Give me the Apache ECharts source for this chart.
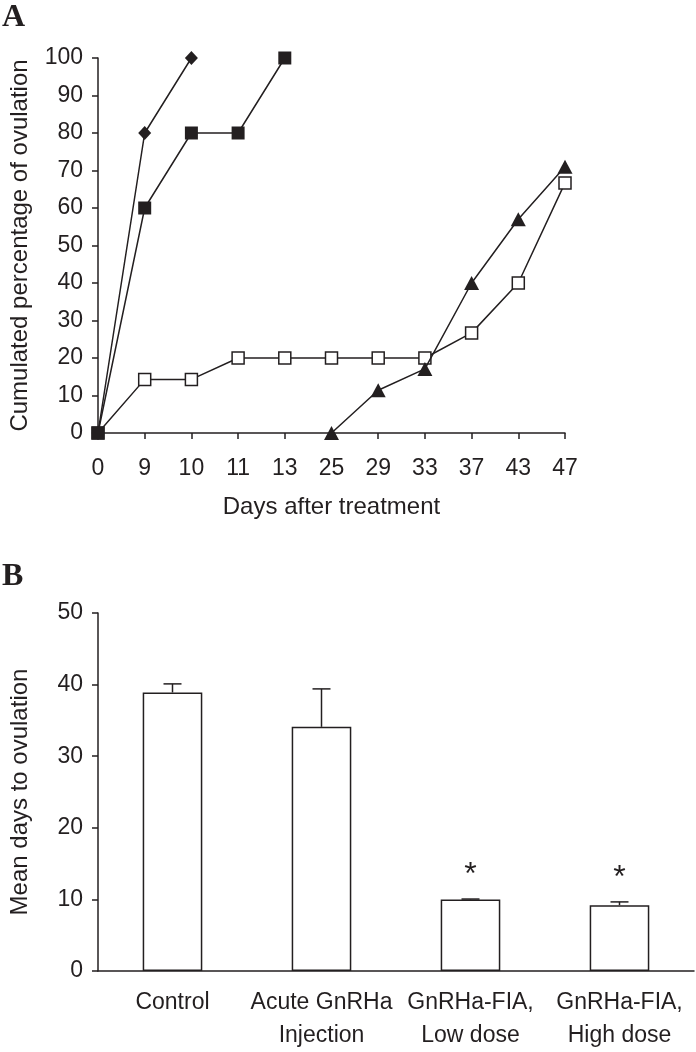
<!DOCTYPE html>
<html>
<head>
<meta charset="utf-8">
<script src="https://cdn.jsdelivr.net/npm/echarts@6/dist/echarts.min.js"></script>
<style>
html,body{margin:0;padding:0;background:#fff;}
#c{width:696px;height:1052px;}
</style>
</head>
<body>
<div id="c"></div>
<script>
// ---- Panel A data ----
var days = ['0','9','10','11','13','25','29','33','37','43','47'];
var diamondVals = [0, 80, 100, '-', '-', '-', '-', '-', '-', '-', '-'];
var filledSquareVals = [0, 60, 80, 80, 100, '-', '-', '-', '-', '-', '-'];
var openSquareVals = [0, 14.3, 14.3, 20, 20, 20, 20, 20, 26.7, 40, 66.7];
var triangleVals = ['-', '-', '-', '-', '-', 0, 11.4, 17.1, 40, 57, 71];

// ---- Panel B data ----
var groups = ['Control', 'Acute GnRHa\nInjection', 'GnRHa-FIA,\nLow dose', 'GnRHa-FIA,\nHigh dose'];
var meanDays = [38.9, 34.1, 10.0, 9.2];
var semDays = [1.2, 5.3, 0.05, 0.45];
var significant = [false, false, true, true];

var INK = '#231f20';
var FONT = "'Liberation Sans', Arial, Helvetica, sans-serif";

var chart = echarts.init(document.getElementById('c'), null, {renderer: 'canvas'});

function lineSeries(name, vals, symbol, size, fill, z) {
  return {
    name: name, type: 'line', xAxisIndex: 0, yAxisIndex: 0,
    data: vals, symbol: symbol, symbolSize: size, connectNulls: false,
    showAllSymbol: true, z: z,
    lineStyle: {color: INK, width: 1.5},
    itemStyle: {color: fill, borderColor: INK, borderWidth: fill === '#fff' ? 1.5 : 0, opacity: 1},
    emphasis: {disabled: true}
  };
}

var errData = meanDays.map(function (m, i) { return [i, m, semDays[i], significant[i] ? 1 : 0]; });

var option = {
  animation: false,
  backgroundColor: '#fff',
  textStyle: {fontFamily: FONT, color: INK},
  graphic: [
    {type: 'text', left: 2, top: 2, style: {text: 'A', font: "bold 32px 'Liberation Serif', 'Times New Roman', serif", fill: INK}},
    {type: 'text', left: 2, top: 561, style: {text: 'B', font: "bold 32px 'Liberation Serif', 'Times New Roman', serif", fill: INK}}
  ],
  grid: [
    {left: 87, top: 58, width: 478, height: 375},
    {left: 87, top: 613, width: 607, height: 367}
  ],
  xAxis: [
    {
      type: 'category', gridIndex: 0, data: days, boundaryGap: false,
      axisLine: {lineStyle: {color: INK, width: 1.5}},
      axisTick: {length: 6, lineStyle: {color: INK, width: 1.5}, alignWithLabel: true, interval: 0},
      axisLabel: {fontSize: 23, color: INK, margin: 24, interval: 0, fontFamily: FONT},
      splitLine: {show: false},
      name: 'Days after treatment', nameLocation: 'middle', nameGap: 62,
      nameTextStyle: {fontSize: 24, color: INK, fontFamily: FONT}
    },
    {
      type: 'category', gridIndex: 1, data: groups, boundaryGap: true,
      axisLine: {lineStyle: {color: INK, width: 1.5}},
      axisTick: {length: 7, lineStyle: {color: INK, width: 1.5}, interval: 0},
      axisLabel: {fontSize: 23, color: INK, margin: 15, interval: 0, lineHeight: 33, fontFamily: FONT},
      splitLine: {show: false}
    }
  ],
  yAxis: [
    {
      type: 'value', gridIndex: 0, min: 0, max: 100, interval: 10,
      axisLine: {show: true, lineStyle: {color: INK, width: 1.5}},
      axisTick: {show: true, length: 6, lineStyle: {color: INK, width: 1.5}},
      axisLabel: {fontSize: 23, color: INK, margin: 15, fontFamily: FONT},
      splitLine: {show: false},
      name: 'Cumulated percentage of ovulation', nameLocation: 'middle', nameGap: 66,
      nameTextStyle: {fontSize: 24, color: INK, fontFamily: FONT}
    },
    {
      type: 'value', gridIndex: 1, min: 0, max: 50, interval: 10,
      axisLine: {show: true, lineStyle: {color: INK, width: 1.5}},
      axisTick: {show: true, length: 6, lineStyle: {color: INK, width: 1.5}},
      axisLabel: {fontSize: 23, color: INK, margin: 15, fontFamily: FONT},
      splitLine: {show: false},
      name: 'Mean days to ovulation', nameLocation: 'middle', nameGap: 66,
      nameTextStyle: {fontSize: 24, color: INK, fontFamily: FONT}
    }
  ],
  series: [
    lineSeries('Open square', openSquareVals, 'rect', 12, '#fff', 2),
    lineSeries('Triangle', triangleVals, 'triangle', [15, 14], INK, 3),
    lineSeries('Diamond', diamondVals, 'diamond', [13, 14], INK, 4),
    lineSeries('Filled square', filledSquareVals, 'rect', 13, INK, 5),
    {
      type: 'bar', xAxisIndex: 1, yAxisIndex: 1, data: meanDays, barWidth: '40%',
      itemStyle: {color: '#fff', borderColor: INK, borderWidth: 1.5},
      emphasis: {disabled: true}, z: 2
    },
    {
      type: 'custom', xAxisIndex: 1, yAxisIndex: 1, data: errData, z: 3,
      renderItem: function (params, api) {
        var i = api.value(0), m = api.value(1), e = api.value(2), sig = api.value(3);
        var base = api.coord([i, m]);
        var top = api.coord([i, m + e]);
        var half = 9;
        var children = [
          {type: 'line', shape: {x1: base[0], y1: base[1], x2: top[0], y2: top[1]}, style: {stroke: INK, lineWidth: 1.5}},
          {type: 'line', shape: {x1: top[0] - half, y1: top[1], x2: top[0] + half, y2: top[1]}, style: {stroke: INK, lineWidth: 1.5}}
        ];
        if (sig) {
          children.push({type: 'text', style: {text: '*', x: top[0], y: top[1] - 24, align: 'center', verticalAlign: 'middle', font: "32px " + FONT, fill: INK}});
        }
        return {type: 'group', children: children};
      }
    }
  ]
};
chart.setOption(option);
</script>
</body>
</html>
